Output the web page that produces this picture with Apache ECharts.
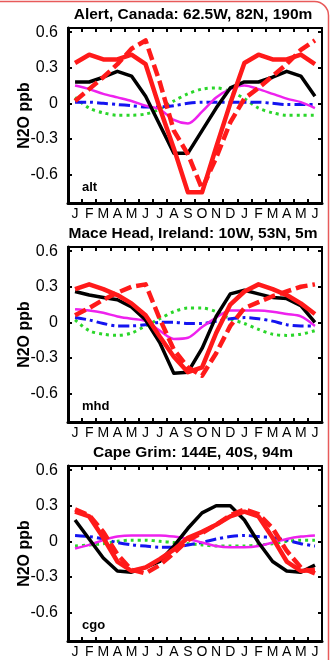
<!DOCTYPE html>
<html>
<head>
<meta charset="utf-8">
<script src="https://cdn.jsdelivr.net/npm/echarts@6/dist/echarts.min.js"></script>
<style>
  html, body { margin: 0; padding: 0; background: #fff; }
  #chart { width: 330px; height: 660px; }
</style>
</head>
<body>
<div id="chart"></div>
<script>
// Month letters along the 18-month window (Jan .. Jun of the following year)
const months = ['J','F','M','A','M','J','J','A','S','O','N','D','J','F','M','A','M','J'];
const yTicks = [-0.6, -0.3, 0, 0.3, 0.6];

const stationTitles = [
  'Alert, Canada: 62.5W, 82N, 190m',
  'Mace Head, Ireland: 10W, 53N, 5m',
  'Cape Grim: 144E, 40S, 94m'
];
const stationCodes = ['alt', 'mhd', 'cgo'];

// Alert (alt) seasonal N2O anomalies, ppb
const altBlack   = [0.18, 0.18, 0.22, 0.27, 0.23, 0.06, -0.18, -0.42, -0.42, -0.23, -0.04, 0.13, 0.18, 0.18, 0.22, 0.27, 0.23, 0.06];
const altRed     = [0.34, 0.41, 0.37, 0.37, 0.41, 0.33, -0.04, -0.38, -0.75, -0.75, -0.37, 0.00, 0.34, 0.41, 0.37, 0.37, 0.41, 0.33];
const altRedDash = [0.02, 0.12, 0.22, 0.33, 0.46, 0.53, 0.18, -0.23, -0.43, -0.72, -0.46, -0.16, 0.04, 0.13, 0.23, 0.33, 0.45, 0.53];
const altMagenta = [0.15, 0.12, 0.08, 0.05, 0.02, -0.02, -0.05, -0.14, -0.17, -0.07, 0.05, 0.12, 0.15, 0.12, 0.08, 0.04, 0.01, -0.04];
const altBlue    = [0.01, 0.01, 0.00, -0.01, -0.02, -0.03, -0.03, -0.02, 0.00, 0.01, 0.01, 0.01, 0.01, 0.01, 0.00, -0.01, -0.01, -0.01];
const altGreen   = [0.05, -0.04, -0.08, -0.10, -0.10, -0.09, -0.05, 0.02, 0.08, 0.12, 0.13, 0.10, 0.04, -0.04, -0.08, -0.10, -0.10, -0.10];

// Mace Head (mhd)
const mhdBlack   = [0.26, 0.23, 0.21, 0.19, 0.13, 0.02, -0.17, -0.43, -0.42, -0.22, 0.05, 0.24, 0.27, 0.24, 0.21, 0.20, 0.14, 0.00];
const mhdRed     = [0.28, 0.32, 0.28, 0.23, 0.16, 0.06, -0.12, -0.29, -0.42, -0.38, -0.09, 0.15, 0.26, 0.32, 0.28, 0.23, 0.16, 0.07];
const mhdRedDash = [0.06, 0.12, 0.19, 0.25, 0.30, 0.32, 0.03, -0.23, -0.38, -0.45, -0.26, -0.03, 0.12, 0.17, 0.22, 0.26, 0.30, 0.32];
const mhdMagenta = [0.11, 0.10, 0.08, 0.05, 0.03, 0.01, -0.07, -0.14, -0.13, -0.04, 0.04, 0.10, 0.10, 0.10, 0.09, 0.07, 0.05, -0.03];
const mhdBlue    = [0.04, 0.02, -0.01, -0.03, -0.03, -0.02, 0.00, 0.00, -0.01, -0.01, 0.01, 0.03, 0.04, 0.03, 0.01, -0.02, -0.03, -0.03];
const mhdGreen   = [0.02, -0.07, -0.10, -0.11, -0.09, -0.03, 0.03, 0.09, 0.12, 0.12, 0.09, 0.03, -0.01, -0.06, -0.10, -0.11, -0.10, -0.07];

// Cape Grim (cgo)
const cgoBlack   = [0.18, 0.02, -0.14, -0.25, -0.26, -0.22, -0.17, -0.04, 0.11, 0.24, 0.30, 0.30, 0.18, -0.01, -0.17, -0.25, -0.26, -0.20];
const cgoRed     = [0.25, 0.21, 0.03, -0.17, -0.25, -0.22, -0.15, -0.07, 0.03, 0.08, 0.14, 0.21, 0.25, 0.21, 0.03, -0.17, -0.25, -0.24];
const cgoRedDash = [0.27, 0.22, 0.08, -0.11, -0.24, -0.27, -0.20, -0.10, 0.01, 0.07, 0.14, 0.22, 0.27, 0.23, 0.11, -0.08, -0.22, -0.27];
const cgoMagenta = [-0.06, -0.03, 0.01, 0.04, 0.05, 0.05, 0.05, 0.04, 0.02, -0.01, -0.04, -0.05, -0.05, -0.04, -0.01, 0.02, 0.04, 0.05];
const cgoBlue    = [0.05, 0.04, 0.02, -0.01, -0.03, -0.04, -0.05, -0.05, -0.03, -0.01, 0.02, 0.04, 0.05, 0.04, 0.03, 0.01, -0.02, -0.04];
const cgoGreen   = [-0.04, -0.03, -0.02, 0.00, 0.01, 0.01, 0.00, -0.01, -0.02, -0.03, -0.04, -0.04, -0.04, -0.03, -0.02, 0.00, 0.01, 0.01];

const panels = [
  { black: altBlack, red: altRed, redDash: altRedDash, magenta: altMagenta, blue: altBlue, green: altGreen },
  { black: mhdBlack, red: mhdRed, redDash: mhdRedDash, magenta: mhdMagenta, blue: mhdBlue, green: mhdGreen },
  { black: cgoBlack, red: cgoRed, redDash: cgoRedDash, magenta: cgoMagenta, blue: cgoBlue, green: cgoGreen }
];

const FONT = '"Liberation Sans", Arial, Helvetica, sans-serif';
const GRID_LEFT = 68, GRID_W = 254, GRID_H = 175;
const gridTops = [28, 247, 466];

const grids = [], xAxes = [], yAxes = [], series = [], graphics = [];

gridTops.forEach((top, i) => {
  grids.push({
    left: GRID_LEFT, top: top, width: GRID_W, height: GRID_H,
    show: true, borderColor: '#000', borderWidth: 2, backgroundColor: 'transparent'
  });
  // bottom month axis
  xAxes.push({
    gridIndex: i, type: 'category', data: months, boundaryGap: true, position: 'bottom',
    axisLine: { show: true, onZero: false, lineStyle: { color: '#000', width: 3 } },
    axisTick: { show: true, inside: true, length: 4, interval: 0, lineStyle: { color: '#000', width: 2 } },
    axisLabel: { interval: 0, color: '#000', fontSize: 14, fontFamily: FONT, margin: 4 },
    splitLine: { show: false }
  });
  // top mirror axis (ticks only)
  xAxes.push({
    gridIndex: i, type: 'category', data: months, boundaryGap: true, position: 'top',
    axisLine: { show: true, onZero: false, lineStyle: { color: '#000', width: 2 } },
    axisTick: { show: true, inside: true, length: 4, interval: 0, lineStyle: { color: '#000', width: 2 } },
    axisLabel: { show: false }, splitLine: { show: false }
  });
  // left value axis
  yAxes.push({
    gridIndex: i, type: 'value', min: -0.84, max: 0.635, position: 'left',
    axisLine: { show: true, onZero: false, lineStyle: { color: '#000', width: 3 } },
    axisTick: { show: true, inside: true, length: 4, customValues: yTicks, lineStyle: { color: '#000', width: 2 } },
    axisLabel: {
      customValues: yTicks, color: '#000', fontSize: 16, fontFamily: FONT, margin: 10,
      formatter: v => (Math.abs(v) < 1e-9 ? '0' : v.toFixed(1))
    },
    splitLine: { show: false }
  });
  // right mirror axis (ticks only)
  yAxes.push({
    gridIndex: i, type: 'value', min: -0.84, max: 0.635, position: 'right',
    axisLine: { show: true, onZero: false, lineStyle: { color: '#000', width: 2 } },
    axisTick: { show: true, inside: true, length: 4, customValues: yTicks, lineStyle: { color: '#000', width: 2 } },
    axisLabel: { show: false }, splitLine: { show: false }
  });

  // station heading
  graphics.push({
    type: 'text', x: 193, y: top - 13,
    style: { text: stationTitles[i], font: 'bold 15.5px ' + FONT, fill: '#000', align: 'center', verticalAlign: 'middle' }
  });
  // y-axis caption
  graphics.push({
    type: 'text', x: 25, y: top + GRID_H / 2, rotation: Math.PI / 2,
    style: { text: 'N2O ppb', font: 'bold 16px ' + FONT, fill: '#000', align: 'center', verticalAlign: 'middle' }
  });
  // station code in the lower-left corner
  graphics.push({
    type: 'text', x: 82, y: top + 159,
    style: { text: stationCodes[i], font: 'bold 13px ' + FONT, fill: '#000', align: 'left', verticalAlign: 'middle' }
  });

  const p = panels[i];
  const line = (data, color, width, type, smooth) => ({
    type: 'line', xAxisIndex: 2 * i, yAxisIndex: 2 * i, data: data,
    symbol: 'none', smooth: smooth || false, silent: true,
    lineStyle: { color: color, width: width, type: type, cap: 'butt', join: 'round' }
  });
  series.push(line(p.green, '#2ad62a', 3, [3, 4], 0.3));
  series.push(line(p.blue, '#1414f0', 3, [11, 4, 3, 4], 0.3));
  series.push(line(p.magenta, '#ee22ee', 2.5, 'solid', 0.3));
  series.push(line(p.black, '#000000', 3.5, 'solid'));
  series.push(line(p.redDash, '#ff1a1a', 4.5, [12, 5]));
  series.push(line(p.red, '#ff1a1a', 4.5, 'solid'));
});

// thin rounded frame line at the page edge
graphics.push({
  type: 'rect', shape: { x: -20, y: 1.5, width: 348.5, height: 720, r: 14 },
  style: { fill: 'none', stroke: '#e85a5a', lineWidth: 1.5 }, silent: true, z: 0
});

const chart = echarts.init(document.getElementById('chart'), null, { renderer: 'canvas' });
chart.setOption({
  animation: false,
  backgroundColor: '#fff',
  grid: grids,
  xAxis: xAxes,
  yAxis: yAxes,
  graphic: graphics,
  series: series
});
</script>
</body>
</html>
